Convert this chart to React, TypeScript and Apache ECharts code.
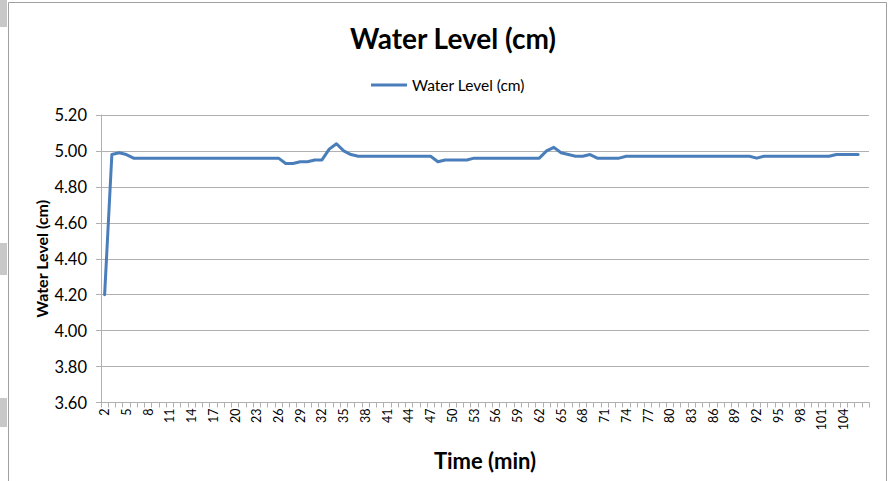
import React, { useEffect, useRef } from "react";
import * as echarts from "echarts";

const categories: string[] = [
  "2", "3", "4", "5", "6", "7", "8", "9", "10", "11",
  "12", "13", "14", "15", "16", "17", "18", "19", "20", "21",
  "22", "23", "24", "25", "26", "27", "28", "29", "30", "31",
  "32", "33", "34", "35", "36", "37", "38", "39", "40", "41",
  "42", "43", "44", "45", "46", "47", "48", "49", "50", "51",
  "52", "53", "54", "55", "56", "57", "58", "59", "60", "61",
  "62", "63", "64", "65", "66", "67", "68", "69", "70", "71",
  "72", "73", "74", "75", "76", "77", "78", "79", "80", "81",
  "82", "83", "84", "85", "86", "87", "88", "89", "90", "91",
  "92", "93", "94", "95", "96", "97", "98", "99", "100", "101",
  "102", "103", "104", "105", "106", "107",
];

const waterLevel: (number | null)[] = [
  4.2, 4.98, 4.99, 4.98, 4.96, 4.96, 4.96, 4.96, 4.96, 4.96,
  4.96, 4.96, 4.96, 4.96, 4.96, 4.96, 4.96, 4.96, 4.96, 4.96,
  4.96, 4.96, 4.96, 4.96, 4.96, 4.93, 4.93, 4.94, 4.94, 4.95,
  4.95, 5.01, 5.04, 5.0, 4.98, 4.97, 4.97, 4.97, 4.97, 4.97,
  4.97, 4.97, 4.97, 4.97, 4.97, 4.97, 4.94, 4.95, 4.95, 4.95,
  4.95, 4.96, 4.96, 4.96, 4.96, 4.96, 4.96, 4.96, 4.96, 4.96,
  4.96, 5.0, 5.02, 4.99, 4.98, 4.97, 4.97, 4.98, 4.96, 4.96,
  4.96, 4.96, 4.97, 4.97, 4.97, 4.97, 4.97, 4.97, 4.97, 4.97,
  4.97, 4.97, 4.97, 4.97, 4.97, 4.97, 4.97, 4.97, 4.97, 4.97,
  4.96, 4.97, 4.97, 4.97, 4.97, 4.97, 4.97, 4.97, 4.97, 4.97,
  4.97, 4.98, 4.98, 4.98, 4.98, null,
];

// labels shown: every third category, up to "104"
const LAST_LABEL = "104";

const FONT = "Lato, 'Liberation Sans', sans-serif";
const GRID_GRAY = "#b0b0b0";

export default function App() {
  const ref = useRef<HTMLDivElement>(null);

  useEffect(() => {
    if (!ref.current) return;
    const chart = echarts.init(ref.current, undefined, { renderer: "svg" });
    const lastLabelIdx = categories.indexOf(LAST_LABEL);
    chart.setOption({
      animation: false,
      backgroundColor: "#ffffff",
      title: {
        text: "Water Level (cm)",
        left: 448,
        top: 19,
        textAlign: "center",
        textStyle: { fontFamily: FONT, fontSize: 28, fontWeight: "bold", color: "#000" },
      },
      legend: {
        left: 366,
        top: 72,
        icon: "rect",
        itemWidth: 36,
        itemHeight: 3,
        textStyle: { fontFamily: FONT, fontSize: 15.5, color: "#000" },
        data: ["Water Level (cm)"],
      },
      graphic: [
        { type: "rect", shape: { x: 8.5, y: 2.5, width: 878, height: 490 }, style: { fill: "none", stroke: "#a0a0a0", lineWidth: 1 }, silent: true },
        { type: "rect", shape: { x: 0, y: 0, width: 7, height: 27 }, style: { fill: "#c8c8c8" }, silent: true },
        { type: "rect", shape: { x: 0, y: 243, width: 7, height: 32 }, style: { fill: "#c8c8c8" }, silent: true },
        { type: "rect", shape: { x: 0, y: 398, width: 7, height: 29 }, style: { fill: "#c8c8c8" }, silent: true },
      ],
      grid: { left: 101, right: 19, top: 115, bottom: 78.5, containLabel: false },
      xAxis: {
        type: "category",
        data: categories,
        boundaryGap: true,
        name: "Time (min)",
        nameLocation: "middle",
        nameGap: 47,
        nameMoveOverlap: false,
        nameTextStyle: { fontFamily: FONT, fontSize: 22, fontWeight: "bold", color: "#000" },
        axisLine: { lineStyle: { color: GRID_GRAY, width: 1 } },
        axisTick: { show: true, interval: 0, length: 5, lineStyle: { color: GRID_GRAY } },
        axisLabel: {
          interval: (idx: number) => idx % 3 === 0 && idx <= lastLabelIdx,
          rotate: 90,
          margin: 6,
          fontFamily: FONT,
          fontSize: 12.5,
          color: "#000",
        },
        splitLine: { show: false },
      },
      yAxis: {
        type: "value",
        min: 3.6,
        max: 5.2,
        interval: 0.2,
        name: "Water Level (cm)",
        nameLocation: "middle",
        nameGap: 52,
        nameMoveOverlap: false,
        nameTextStyle: { fontFamily: FONT, fontSize: 16, fontWeight: "bold", color: "#000" },
        axisLine: { show: true, lineStyle: { color: GRID_GRAY, width: 1 } },
        axisTick: { show: true, length: 5, lineStyle: { color: GRID_GRAY } },
        axisLabel: {
          margin: 14,
          fontFamily: FONT,
          fontSize: 16.5,
          color: "#000",
          formatter: (v: number) => v.toFixed(2),
        },
        splitLine: { show: true, lineStyle: { color: GRID_GRAY, width: 1 } },
      },
      series: [
        {
          name: "Water Level (cm)",
          type: "line",
          data: waterLevel,
          showSymbol: false,
          symbol: "none",
          itemStyle: { color: "#4a7ebb" },
          lineStyle: { color: "#4a7ebb", width: 3, join: "round", cap: "round" },
        },
      ],
    });
    return () => chart.dispose();
  }, []);

  return (
    <div
      ref={ref}
      style={{ position: "absolute", left: 0, top: 0, width: 888, height: 481 }}
    />
  );
}
